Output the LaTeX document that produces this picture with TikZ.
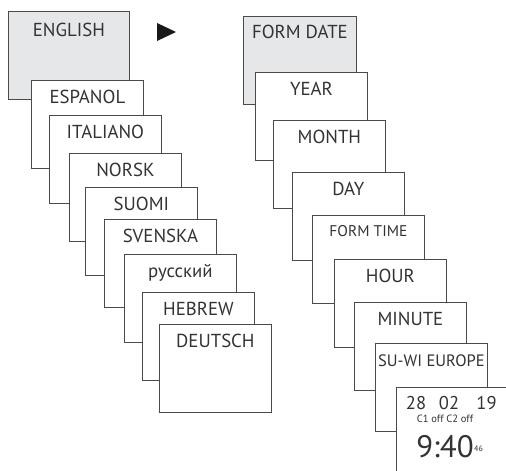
\documentclass[tikz,border=0pt]{standalone}
\usepackage{fontspec}
\setmainfont{PT Sans}
\definecolor{framegray}{HTML}{4A4A4A}
\definecolor{headgray}{HTML}{E6E7E8}
\definecolor{textgray}{HTML}{333333}
\begin{document}
\begin{tikzpicture}[x=1pt,y=-1pt,
  every node/.style={text=textgray},
  menu/.style={draw=framegray,line width=0.8pt,fill=white,inner sep=0pt,anchor=north west,
    minimum width=112pt,text height=23pt,text depth=65pt,font=\fontsize{18.8}{20}\selectfont},
  digits/.style={inner sep=0pt,font=\fontsize{18.5}{20}\selectfont}]
  \useasboundingbox (0,0) rectangle (506,471);
  \clip (0,0) rectangle (506,471);
  % the languages
  \node[menu,fill=headgray,minimum width=121pt,text height=25pt,text depth=63pt] (english) at (8,11) {ENGLISH};
  \foreach \n/\x/\y/\t in {espanol/31/80/ESPANOL,italiano/49/115/ITALIANO,norsk/69/153/NORSK,
    suomi/85/187/SUOMI,svenska/104/219/SVENSKA,russkij/124/254/русский,
    hebrew/142/292/HEBREW,deutsch/159/324/DEUTSCH}
    \node[menu] (\n) at (\x,\y) {\t};
  % the arrow
  \fill[black!90] (157,23) -- (176,32) -- (157,41) -- cycle;
  % the date and time settings
  \node[menu,fill=headgray,minimum width=113pt,text height=22pt,text depth=66pt] (formdate) at (243,16) {FORM DATE};
  \foreach \n/\x/\y/\t in {year/255/72/YEAR,month/273/120/MONTH,day/292/172/DAY}
    \node[menu] (\n) at (\x,\y) {\t};
  \node[menu,font=\fontsize{15.5}{17}\selectfont,text height=21pt,text depth=67pt] (formtime) at (312,215) {FORM TIME};
  \foreach \n/\x/\y/\t in {hour/334/259/HOUR,minute/354/302/MINUTE}
    \node[menu] (\n) at (\x,\y) {\t};
  \node[menu,font=\fontsize{16.5}{18}\selectfont,text height=23pt,text depth=65pt] (suwi) at (375,343) {SU-WI EUROPE};
  \node[menu] (clock) at (396,387) {};
  % the display
  \node[digits] (dd) at (416,403.5) {28};
  \node[digits] (mm) at (449,403.5) {02};
  \node[digits] (yy) at (486.5,403.5) {19};
  \node[inner sep=0pt,font=\fontsize{10.5}{11}\selectfont] (channels) at (445,418.5) {C1 off C2 off};
  \node[inner sep=0pt,font=\fontsize{31}{32}\selectfont] (time) at (445,447) {9:40};
  \node[inner sep=0pt,font=\fontsize{8}{9}\selectfont,anchor=west] (secs) at (time.east) [yshift=-2pt] {46};
\end{tikzpicture}
\end{document}
